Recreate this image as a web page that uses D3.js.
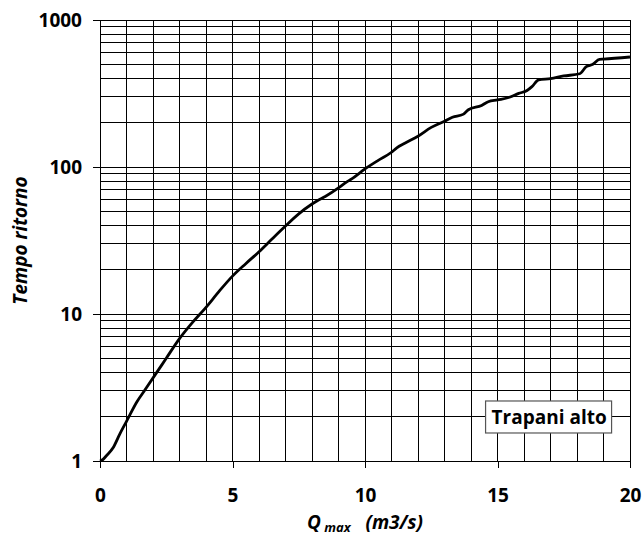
<!DOCTYPE html>
<html>
<head>
<meta charset="utf-8">
<script src="https://cdn.jsdelivr.net/npm/d3@7"></script>
<style>
  html, body { margin: 0; padding: 0; background: #fff; }
  svg { display: block; font-family: "Open Sans", "Liberation Sans", sans-serif; }
</style>
</head>
<body>
<div id="chart"></div>
<script>
// Discharge (m3/s) and return period (years)
const qValues = [0, 0.1, 0.25, 0.5, 0.75, 1, 1.4, 1.7, 2.2, 2.5, 3, 3.5, 4, 4.5, 5, 5.5, 6, 6.5, 7, 7.5, 8,
  8.2, 8.5, 9, 9.3, 9.5, 10, 10.5, 11, 11.2, 11.5, 12, 12.5, 13, 13.3, 13.7, 13.9, 14.4, 14.65, 15,
  15.45, 15.8, 16.1, 16.3, 16.55, 17, 17.5, 18.1, 18.35, 18.6, 18.85, 19, 20];
const returnPeriods = [1, 1.02, 1.09, 1.235, 1.53, 1.86, 2.54, 3.05, 4.15, 5.0, 6.8, 8.8, 11.1, 14.3, 18.1, 22, 26.5, 32.5, 39.7, 48, 56,
  59, 63, 72, 79, 83, 97, 111, 126, 135, 145, 162, 186, 205, 218, 228, 245, 262, 278, 286,
  298, 317, 330, 352, 391, 399, 416, 431, 481, 500, 540, 542, 560];

const xTicks = [0, 5, 10, 15, 20];
const yTicks = [1, 10, 100, 1000];
const stationName = "Trapani alto";
const yTitle = "Tempo ritorno";

class ReturnPeriodChart {

    constructor(config) {
        this.config = config;
        this.configureVis();
    }

    configureVis() {
        const vis = this;
        const m = vis.config.margin;
        vis.width = vis.config.containerWidth - m.left - m.right;
        vis.height = vis.config.containerHeight - m.top - m.bottom;

        vis.xScale = d3.scaleLinear().domain([0, 20]).range([0, vis.width]);
        vis.yScale = d3.scaleLog().domain([1, 1000]).range([vis.height, 0]);

        vis.svg = d3.select(vis.config.parentElement)
            .append('svg')
            .attr('width', vis.config.containerWidth)
            .attr('height', vis.config.containerHeight);

        vis.chart = vis.svg.append('g')
            .attr('transform', `translate(${m.left},${m.top})`);

        vis.renderVis();
    }

    renderVis() {
        const vis = this;

        // vertical grid, one line per m3/s
        vis.chart.selectAll('.vgrid')
            .data(d3.range(0, 21))
            .join('line')
            .attr('class', 'vgrid')
            .attr('x1', d => vis.xScale(d))
            .attr('x2', d => vis.xScale(d))
            .attr('y1', 0)
            .attr('y2', vis.height)
            .attr('stroke', '#000')
            .attr('stroke-width', 1)
            .attr('shape-rendering', 'crispEdges');

        // horizontal grid at log minor steps
        const hLines = [];
        [1, 10, 100].forEach(dec => d3.range(1, 10).forEach(k => hLines.push(dec * k)));
        hLines.push(1000);

        vis.chart.selectAll('.hgrid')
            .data(hLines)
            .join('line')
            .attr('class', 'hgrid')
            .attr('x1', 0)
            .attr('x2', vis.width)
            .attr('y1', d => vis.yScale(d))
            .attr('y2', d => vis.yScale(d))
            .attr('stroke', '#000')
            .attr('stroke-width', 1)
            .attr('shape-rendering', 'crispEdges');

        // axes
        const xAxis = d3.axisBottom(vis.xScale)
            .tickValues(xTicks)
            .tickSize(7)
            .tickPadding(21)
            .tickFormat(d3.format('d'));
        const yAxis = d3.axisLeft(vis.yScale)
            .tickValues(yTicks)
            .tickSize(7)
            .tickPadding(11)
            .tickFormat(d3.format('d'));

        const gx = vis.chart.append('g')
            .attr('transform', `translate(0,${vis.height})`)
            .call(xAxis);
        const gy = vis.chart.append('g').call(yAxis);

        [gx, gy].forEach(g => {
            g.select('.domain').attr('stroke', '#000').attr('shape-rendering', 'crispEdges');
            g.selectAll('.tick line').attr('stroke', '#000').attr('shape-rendering', 'crispEdges');
            g.selectAll('.tick text')
                .attr('fill', '#000')
                .style('font-size', '19px')
                .style('font-weight', 'bold')
                .style('font-family', '"Open Sans", "Liberation Sans", sans-serif');
        });

        // curve
        const pts = qValues.map((q, i) => [q, returnPeriods[i]]);
        const line = d3.line()
            .x(d => vis.xScale(d[0]))
            .y(d => vis.yScale(d[1]))
            .curve(d3.curveMonotoneX);

        vis.chart.append('path')
            .datum(pts)
            .attr('d', line)
            .attr('fill', 'none')
            .attr('stroke', '#000')
            .attr('stroke-width', 2.8)
            .attr('stroke-linejoin', 'round');

        // station label box
        const label = vis.chart.append('g')
            .attr('transform', `translate(${vis.xScale(14.55)},${vis.yScale(2.56)})`);
        label.append('rect')
            .attr('width', 126)
            .attr('height', 32)
            .attr('fill', '#fff')
            .attr('stroke', '#555')
            .attr('stroke-width', 1.2);
        label.append('text')
            .attr('x', 6)
            .attr('y', 23)
            .style('font-size', '19px')
            .style('font-weight', 'bold')
            .text(stationName);

        // axis titles
        vis.svg.append('text')
            .attr('transform', `translate(27,${vis.config.margin.top + vis.height / 2}) rotate(-90)`)
            .attr('text-anchor', 'middle')
            .style('font-size', '19px')
            .style('font-weight', 'bold')
            .style('font-style', 'italic')
            .text(yTitle);

        const xt = vis.svg.append('text')
            .attr('x', vis.config.margin.left + vis.width / 2)
            .attr('y', 529)
            .attr('text-anchor', 'middle')
            .attr('xml:space', 'preserve')
            .style('white-space', 'pre')
            .style('font-size', '19px')
            .style('font-weight', 'bold')
            .style('font-style', 'italic');
        xt.append('tspan').text('Q');
        xt.append('tspan').attr('dy', 3).style('font-size', '13px').text(' max');
        xt.append('tspan').attr('dy', -3).text('   (m3/s)');
    }
}

new ReturnPeriodChart({
    parentElement: '#chart',
    containerWidth: 643,
    containerHeight: 537,
    margin: { top: 20, right: 13, bottom: 76, left: 100 }
});
</script>
</body>
</html>
